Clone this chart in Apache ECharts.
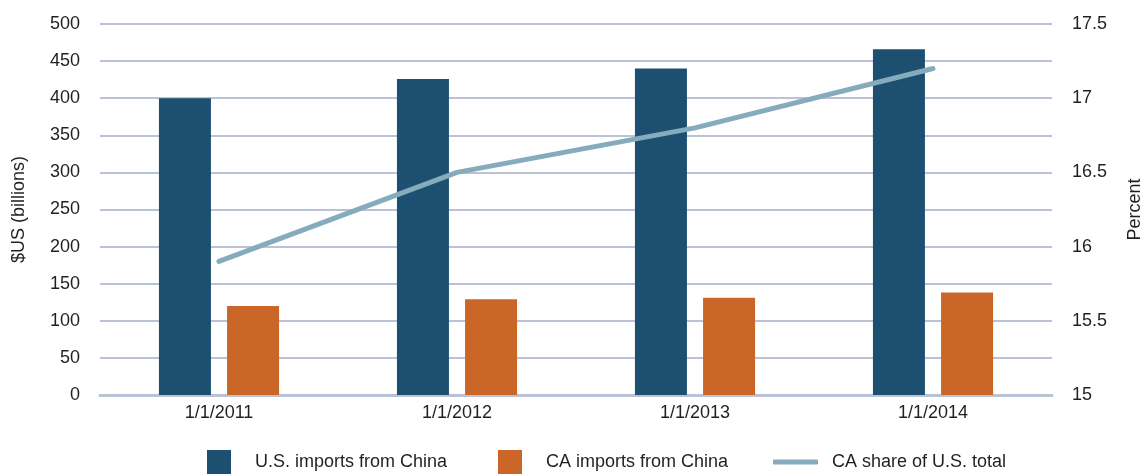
<!DOCTYPE html>
<html><head><meta charset="utf-8">
<script src="https://cdn.jsdelivr.net/npm/echarts@6/dist/echarts.min.js"></script>
<style>html,body{margin:0;padding:0;background:#fff}#c{width:1146px;height:475px}</style>
</head><body><div id="c"></div>
<script>
const categories = ['1/1/2011', '1/1/2012', '1/1/2013', '1/1/2014'];
const usImports = [400, 426, 440, 466];
const caImports = [120, 129, 131, 138];
const caShare = [15.9, 16.5, 16.8, 17.2];
const seriesNames = ['U.S. imports from China', 'CA imports from China', 'CA share of U.S. total'];

const FONT = '"Liberation Sans Narrow", "Liberation Sans", Arial, sans-serif';
const TXT = '#231f20';
const GRID = '#b9c3d5';
const chart = echarts.init(document.getElementById('c'), null, {renderer: 'canvas'});
const textStyle = {fontFamily: FONT, fontSize: 18, color: TXT};
chart.setOption({
  animation: false,
  textStyle: textStyle,
  grid: {left: 100, right: 94, top: 24, bottom: 80, containLabel: false, outerBoundsMode: 'none'},
  legend: [
    {data: [seriesNames[0]], left: 207, top: 450, itemWidth: 24, itemHeight: 24, icon: 'rect', itemGap: 0,
     textStyle: Object.assign({}, textStyle, {padding: [0, 0, 0, 19]}), padding: 0},
    {data: [seriesNames[1]], left: 498, top: 450, itemWidth: 24, itemHeight: 24, icon: 'rect', itemGap: 0,
     textStyle: Object.assign({}, textStyle, {padding: [0, 0, 0, 19]}), padding: 0},
    {data: [seriesNames[2]], left: 773, top: 453, itemWidth: 45, itemHeight: 5, itemGap: 0,
     icon: 'roundRect',
     textStyle: Object.assign({}, textStyle, {padding: [0, 0, 0, 9]}), padding: 0}
  ],
  xAxis: {
    type: 'category', data: categories,
    axisLine: {show: true, lineStyle: {color: GRID, width: 3}},
    axisTick: {show: false},
    axisLabel: {fontFamily: FONT, fontSize: 18, color: TXT, margin: 9}
  },
  yAxis: [
    {type: 'value', min: 0, max: 500, interval: 50,
     name: '$US (billions)', nameLocation: 'middle', nameGap: 72, nameRotate: 90,
     nameTextStyle: {fontFamily: FONT, fontSize: 18, color: TXT},
     axisLine: {show: false}, axisTick: {show: false},
     axisLabel: {fontFamily: FONT, fontSize: 18, color: TXT, margin: 20},
     splitLine: {lineStyle: {color: GRID, width: 2}}},
    {type: 'value', min: 15, max: 17.5, interval: 0.5, position: 'right',
     name: 'Percent', nameLocation: 'middle', nameGap: 74, nameRotate: 90,
     nameTextStyle: {fontFamily: FONT, fontSize: 18, color: TXT},
     axisLine: {show: false}, axisTick: {show: false},
     axisLabel: {fontFamily: FONT, fontSize: 18, color: TXT, margin: 20},
     splitLine: {show: false}}
  ],
  series: [
    {name: seriesNames[0], type: 'bar', data: usImports, barWidth: 52, barGap: '31%',
     itemStyle: {color: '#1c4f70'}},
    {name: seriesNames[1], type: 'bar', data: caImports, barWidth: 52, barGap: '31%',
     itemStyle: {color: '#c96628'}},
    {name: seriesNames[2], type: 'line', yAxisIndex: 1, data: caShare, showSymbol: false, symbol: 'none',
     lineStyle: {color: '#86abbd', width: 5, cap: 'round', join: 'round'},
     itemStyle: {color: '#86abbd'}}
  ]
});
</script></body></html>
